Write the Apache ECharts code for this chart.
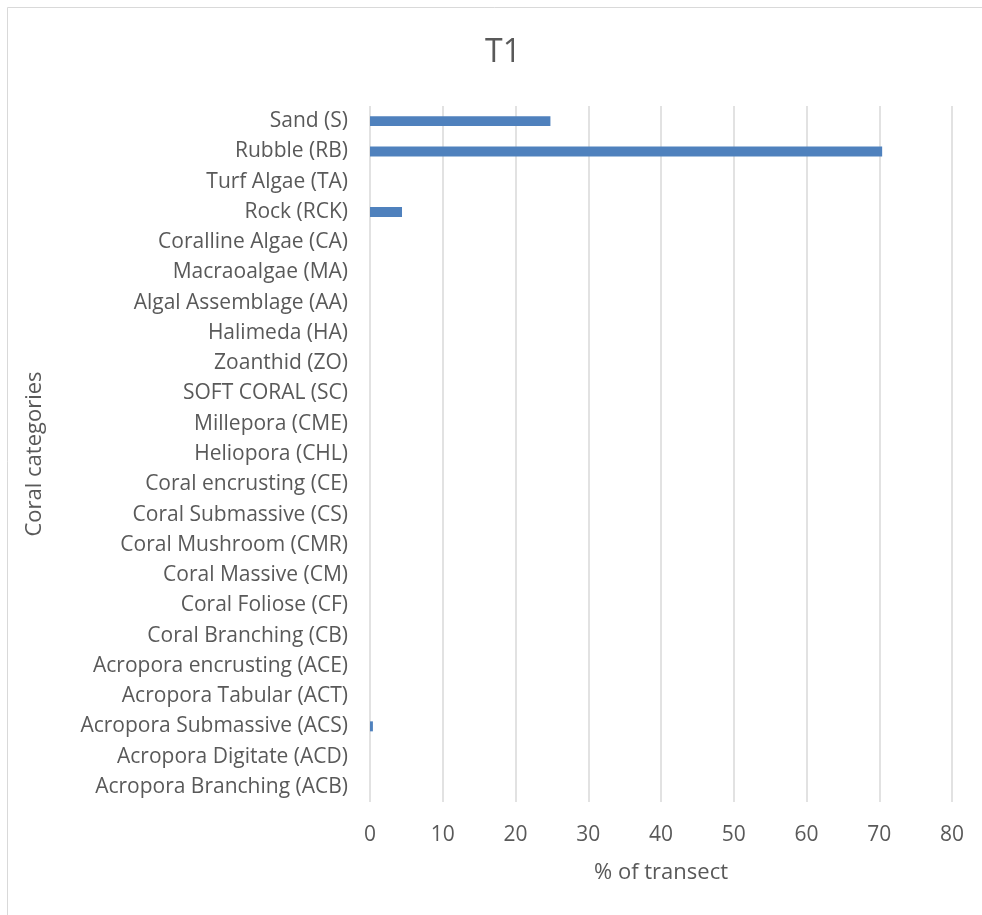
<!DOCTYPE html>
<html>
<head>
<meta charset="utf-8">
<script src="https://cdn.jsdelivr.net/npm/echarts@6/dist/echarts.min.js"></script>
<style>
  html, body { margin: 0; padding: 0; background: #fff; }
  #chart { width: 982px; height: 915px; }
</style>
</head>
<body>
<div id="chart"></div>
<script>
// Benthic cover categories, listed top to bottom
const categories = [
  'Sand (S)', 'Rubble (RB)', 'Turf Algae (TA)', 'Rock (RCK)', 'Coralline Algae (CA)',
  'Macraoalgae (MA)', 'Algal Assemblage (AA)', 'Halimeda (HA)', 'Zoanthid (ZO)',
  'SOFT CORAL (SC)', 'Millepora (CME)', 'Heliopora (CHL)', 'Coral encrusting (CE)',
  'Coral Submassive (CS)', 'Coral Mushroom (CMR)', 'Coral Massive (CM)',
  'Coral Foliose (CF)', 'Coral Branching (CB)', 'Acropora encrusting (ACE)',
  'Acropora Tabular (ACT)', 'Acropora Submassive (ACS)', 'Acropora Digitate (ACD)',
  'Acropora Branching (ACB)'
];
// Percent of transect covered, same order as categories
const cover = [24.8, 70.4, 0, 4.4, 0, 0, 0, 0, 0, 0, 0, 0, 0, 0, 0, 0, 0, 0, 0, 0, 0.4, 0, 0];
const xTicks = [0, 10, 20, 30, 40, 50, 60, 70, 80];

const FONT = 'Open Sans';
const TXT = '#595959';

const chart = echarts.init(document.getElementById('chart'), null, { renderer: 'canvas' });
chart.setOption({
  animation: false,
  backgroundColor: '#fff',
  title: {
    text: 'T1',
    left: 498, top: 32, textAlign: 'center',
    textStyle: { fontFamily: FONT, fontSize: 32, fontWeight: 'normal', color: TXT }
  },
  graphic: [
    { type: 'line', shape: { x1: 7.5, y1: 7.5, x2: 982, y2: 7.5 }, style: { stroke: '#d9d9d9', lineWidth: 1 } },
    { type: 'line', shape: { x1: 7.5, y1: 7.5, x2: 7.5, y2: 915 }, style: { stroke: '#d9d9d9', lineWidth: 1 } }
  ],
  grid: { left: 370, right: 30, top: 106, bottom: 113, containLabel: false },
  xAxis: {
    type: 'value',
    min: xTicks[0], max: xTicks[xTicks.length - 1], interval: 10,
    name: '% of transect', nameLocation: 'middle', nameGap: 60,
    nameTextStyle: { fontFamily: FONT, fontSize: 22, color: TXT },
    axisLine: { show: false },
    axisTick: { show: false },
    axisLabel: { fontFamily: FONT, fontSize: 21, color: TXT, margin: 23 },
    splitLine: { show: true, lineStyle: { color: '#d9d9d9', width: 1.5 } }
  },
  yAxis: {
    type: 'category',
    data: categories,
    inverse: true,
    name: 'Coral categories', nameLocation: 'middle', nameGap: 324,
    nameTextStyle: { fontFamily: FONT, fontSize: 22, color: TXT },
    axisLine: { show: false },
    axisTick: { show: false },
    axisLabel: { fontFamily: FONT, fontSize: 21, color: TXT, margin: 22, padding: [3, 0, 0, 0] },
    splitLine: { show: false }
  },
  series: [{
    type: 'bar',
    data: cover,
    barWidth: '33%',
    itemStyle: { color: '#4f81bd' }
  }]
});
</script>
</body>
</html>
